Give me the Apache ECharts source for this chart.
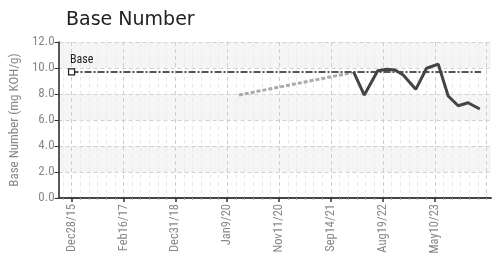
<!DOCTYPE html>
<html><head><meta charset="utf-8">
<script src="https://cdn.jsdelivr.net/npm/echarts@6/dist/echarts.min.js"></script>
<style>html,body{margin:0;padding:0;background:#fff}#c{width:495px;height:265px}</style>
</head><body><div id="c"></div>
<script>
// x positions are in half-step units along the sample axis (0..100)
const tickLabels = ['Dec28/15','Feb16/17','Dec31/18','Jan9/20','Nov11/20','Sep14/21','Aug19/22','May10/23'];
const tickPositions = [3, 15, 27, 39, 51, 63, 75, 87];
const sampleX = [68.2, 70.7, 73.8, 75.9, 77.8, 79.7, 82.6, 85.1, 87.8, 90.1, 92.4, 94.7, 97.4];
const sampleY = [9.72, 7.92, 9.79, 9.9, 9.85, 9.46, 8.36, 9.98, 10.3, 7.85, 7.1, 7.33, 6.85];
const trendX = [41.7, 67.8];
const trendY = [7.92, 9.64];
const baseValue = 9.7;
const baseX = [3, 97.7];

const N = 101;
const cats = [];
for (let i = 0; i < N; i++) {
  const k = tickPositions.indexOf(i);
  cats.push(k >= 0 ? tickLabels[k] : String(i));
}
const isMajor = (i) => tickPositions.indexOf(i) >= 0;
const narrow = "'Liberation Sans Narrow', 'Roboto Condensed', 'Liberation Sans', sans-serif";

const chart = echarts.init(document.getElementById('c'), null, {renderer: 'canvas'});
chart.setOption({
  animation: false,
  backgroundColor: '#fff',
  title: {
    text: 'Base Number', left: 61, top: 6,
    textStyle: {fontSize: 19, fontWeight: 'normal', color: '#222', fontFamily: "'DejaVu Sans', sans-serif"}
  },
  grid: {left: 57, right: 4, top: 42, bottom: 67, containLabel: false},
  xAxis: [
    {
      type: 'category', data: cats, boundaryGap: false, position: 'bottom',
      axisLine: {lineStyle: {color: '#444', width: 2}},
      axisTick: {interval: (i) => isMajor(i), length: 4, lineStyle: {color: '#333', width: 1.5}},
      axisLabel: {interval: (i) => isMajor(i), rotate: 90, color: '#888', fontSize: 12.5, margin: 6, fontFamily: narrow},
      splitLine: {show: true, interval: (i) => i % 2 === 1,
        lineStyle: {type: [4, 3], width: 1, color: ['#eaeaea', '#cfcfcf', '#eaeaea', '#eaeaea', '#eaeaea', '#eaeaea']}}
    },
    {
      type: 'category', data: cats, boundaryGap: false, position: 'bottom',
      axisLine: {show: false},
      axisTick: {interval: (i) => i % 2 === 1 && !isMajor(i), length: 2, lineStyle: {color: '#aaa'}},
      axisLabel: {show: false}, splitLine: {show: false}
    },
    {type: 'value', min: 0, max: 100, show: false, position: 'top'}
  ],
  yAxis: {
    type: 'value', min: 0, max: 12, interval: 2,
    name: 'Base Number (mg KOH/g)', nameLocation: 'middle', nameGap: 36,
    nameTextStyle: {color: '#888', fontSize: 13, fontFamily: narrow},
    axisLine: {show: true, lineStyle: {color: '#222', width: 1.5}},
    axisTick: {show: true, length: 4, lineStyle: {color: '#333'}},
    axisLabel: {color: '#888', fontSize: 13, margin: 4, fontFamily: narrow, formatter: (v) => v.toFixed(1)},
    splitLine: {show: true, lineStyle: {type: [4, 3], color: '#d0d0d0'}},
    splitArea: {show: true, areaStyle: {color: ['#ffffff', '#f5f5f5']}}
  },
  series: [
    {
      name: 'Base', type: 'line', xAxisIndex: 2, z: 3,
      data: baseX.map((x, i) => i === 0 ? {value: [x, baseValue], symbol: 'rect', symbolSize: 6,
        label: {show: true, formatter: 'Base', position: [2, -14], color: '#222', fontSize: 12, fontFamily: narrow}} : {value: [x, baseValue], symbol: 'none'}),
      showSymbol: true,
      itemStyle: {color: '#fff', borderColor: '#222', borderWidth: 1.2},
      lineStyle: {color: '#555', width: 2, type: [7, 2, 2, 2]}
    },
    {
      name: 'Trend', type: 'line', xAxisIndex: 2, symbol: 'none', z: 2,
      data: trendX.map((x, i) => [x, trendY[i]]),
      lineStyle: {color: '#aaaaaa', width: 3, type: [4, 2]}
    },
    {
      name: 'Base Number', type: 'line', xAxisIndex: 2, symbol: 'none', z: 4,
      data: sampleX.map((x, i) => [x, sampleY[i]]),
      lineStyle: {color: '#444', width: 3}
    }
  ]
});
</script>
</body></html>
